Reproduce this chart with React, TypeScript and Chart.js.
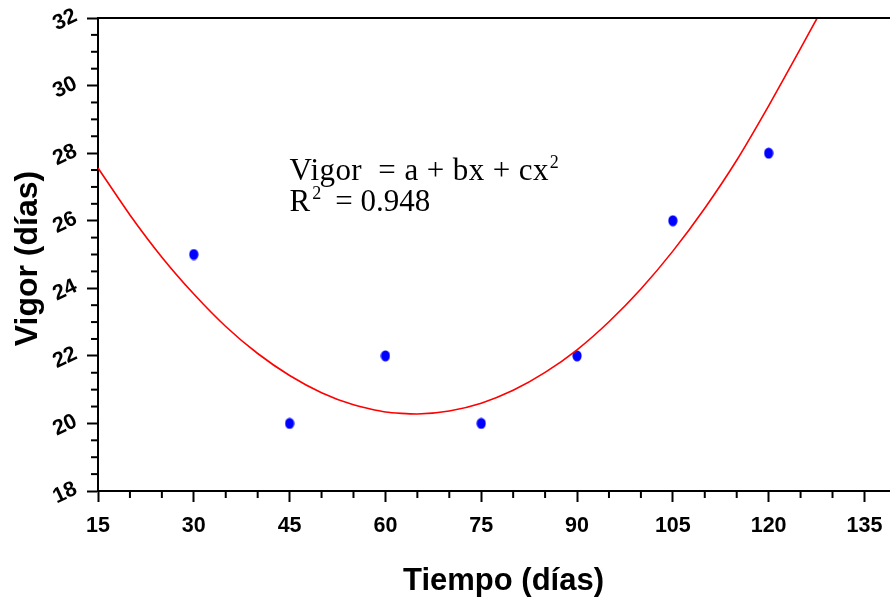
import React, { useEffect, useRef } from "react";
import { Chart, registerables } from "chart.js";

Chart.register(...registerables);

// Observed data
const tiempo = [30, 45, 60, 75, 90, 105, 120];
const vigor = [25, 20, 22, 20, 22, 26, 28];

// Fitted quadratic curve
const fitX = [15, 20, 25, 30, 35, 40, 45, 50, 55, 60, 65, 70, 75, 80, 85, 90, 95, 100, 105, 110, 115, 120, 125, 127.6];
const fitY = [27.56, 26.17, 24.92, 23.83, 22.87, 22.07, 21.42, 20.91, 20.55, 20.34, 20.28, 20.37, 20.6, 20.98, 21.51, 22.18, 23.01, 23.98, 25.1, 26.37, 27.79, 29.4, 31.1, 32.0];

const xMajor = [15, 30, 45, 60, 75, 90, 105, 120, 135];
const yMajor = [18, 20, 22, 24, 26, 28, 30, 32];

const xTitle = "Tiempo (días)";
const yTitle = "Vigor (días)";
const eqLine1 = "Vigor  = a + bx + cx";
const eqR2 = "0.948";

const SANS = "'Liberation Sans', Arial, sans-serif";
const SERIF = "'Liberation Serif', 'Times New Roman', serif";

function makeDot(): HTMLCanvasElement {
  const c = document.createElement("canvas");
  c.width = 10;
  c.height = 12;
  const g = c.getContext("2d")!;
  g.fillStyle = "#0000ff";
  g.beginPath();
  g.ellipse(5, 6, 4.6, 5.6, 0, 0, Math.PI * 2);
  g.fill();
  return c;
}

const framePlugin = {
  id: "frame",
  afterDraw(chart: any) {
    const ctx = chart.ctx;
    const a = chart.chartArea;
    const xs = chart.scales.x;
    const ys = chart.scales.y;
    ctx.save();
    ctx.strokeStyle = "#000";
    ctx.lineWidth = 2;
    // top line
    ctx.beginPath();
    ctx.moveTo(a.left, a.top);
    ctx.lineTo(a.right, a.top);
    ctx.stroke();
    // minor ticks
    xs.ticks.forEach((t: any) => {
      if (!xMajor.includes(t.value)) {
        const px = xs.getPixelForValue(t.value);
        ctx.beginPath();
        ctx.moveTo(px, a.bottom);
        ctx.lineTo(px, a.bottom + 7);
        ctx.stroke();
      }
    });
    ys.ticks.forEach((t: any) => {
      if (!yMajor.includes(t.value)) {
        const py = ys.getPixelForValue(t.value);
        ctx.beginPath();
        ctx.moveTo(a.left, py);
        ctx.lineTo(a.left - 7, py);
        ctx.stroke();
      }
    });
    // rotated y tick labels
    ctx.fillStyle = "#000";
    ctx.font = `bold 21.5px ${SANS}`;
    ctx.textAlign = "center";
    ctx.textBaseline = "middle";
    yMajor.forEach((v) => {
      const py = ys.getPixelForValue(v);
      ctx.save();
      ctx.translate(a.left - 33, py + 2);
      ctx.rotate((-25 * Math.PI) / 180);
      ctx.fillText(String(v), 0, 0);
      ctx.restore();
    });
    // axis titles
    ctx.font = `bold 31px ${SANS}`;
    ctx.fillText(xTitle, a.left + (a.right - a.left) * 0.512, 581);
    ctx.save();
    ctx.font = `bold 32px ${SANS}`;
    ctx.translate(28, (a.top + a.bottom) / 2 + 4);
    ctx.rotate(-Math.PI / 2);
    ctx.fillText(yTitle, 0, 0);
    ctx.restore();
    // equation annotation
    const x0 = xs.getPixelForValue(45);
    const y1 = ys.getPixelForValue(27.2);
    const y2 = ys.getPixelForValue(26.28);
    ctx.textBaseline = "alphabetic";
    ctx.textAlign = "left";
    ctx.font = `31px ${SERIF}`;
    (ctx as any).letterSpacing = "0.4px";
    ctx.fillText(eqLine1, x0, y1);
    const w1 = ctx.measureText(eqLine1).width;
    (ctx as any).letterSpacing = "0px";
    ctx.font = `18px ${SERIF}`;
    ctx.fillText("2", x0 + w1 + 1, y1 - 12);
    ctx.font = `31px ${SERIF}`;
    ctx.fillText("R", x0, y2);
    const wr = ctx.measureText("R").width;
    ctx.font = `18px ${SERIF}`;
    ctx.fillText("2", x0 + wr + 2, y2 - 12);
    ctx.font = `31px ${SERIF}`;
    ctx.fillText("= " + eqR2, x0 + wr + 25, y2);
    ctx.restore();
  },
};

export default function App() {
  const ref = useRef<HTMLCanvasElement>(null);
  useEffect(() => {
    const dot = makeDot();
    const chart = new Chart(ref.current!, {
      type: "scatter",
      data: {
        datasets: [
          {
            type: "line",
            data: fitX.map((x, i) => ({ x, y: fitY[i] })),
            borderColor: "#ff0000",
            borderWidth: 1.6,
            pointRadius: 0,
            tension: 0.2,
            fill: false,
          } as any,
          {
            data: tiempo.map((x, i) => ({ x, y: vigor[i] })),
            pointStyle: dot,
            backgroundColor: "#0000ff",
            borderColor: "#0000ff",
          },
        ],
      },
      options: {
        animation: false,
        responsive: false,
        events: [],
        layout: { autoPadding: false, padding: { top: 18, right: 0, left: 0, bottom: 0 } },
        plugins: { legend: { display: false }, tooltip: { enabled: false } },
        scales: {
          x: {
            type: "linear",
            min: 15,
            max: 139,
            afterFit: (s: any) => {
              s.height = 109;
              s.paddingLeft = 0;
              s.paddingRight = 0;
            },
            ticks: {
              stepSize: 5,
              includeBounds: false,
              autoSkip: false,
              maxRotation: 0,
              minRotation: 0,
              padding: 11,
              color: "#000",
              font: { family: SANS, size: 21.5, weight: "bold" },
              callback: (v: any) => (xMajor.includes(v) ? String(v) : ""),
            },
            grid: {
              drawOnChartArea: false,
              drawTicks: true,
              tickLength: 11,
              tickWidth: 2,
              tickColor: (c: any) => (xMajor.includes(c.tick?.value) ? "#000" : "rgba(0,0,0,0)"),
            },
            border: { display: true, color: "#000", width: 2 },
            title: { display: false },
          },
          y: {
            type: "linear",
            min: 18,
            max: 32,
            afterFit: (s: any) => {
              s.width = 98;
              s.paddingTop = 0;
              s.paddingBottom = 0;
            },
            ticks: {
              stepSize: 0.5,
              autoSkip: false,
              padding: 6,
              color: "#000",
              font: { family: SANS, size: 12, weight: "bold" },
              callback: () => "",
            },
            grid: {
              drawOnChartArea: false,
              drawTicks: true,
              tickLength: 11,
              tickWidth: 2,
              tickColor: (c: any) => (yMajor.includes(c.tick?.value) ? "#000" : "rgba(0,0,0,0)"),
            },
            border: { display: true, color: "#000", width: 2 },
            title: { display: false },
          },
        },
      },
      plugins: [framePlugin],
    } as any);
    return () => chart.destroy();
  }, []);
  return (
    <div style={{ position: "fixed", left: 0, top: 0, width: 890, height: 600, background: "#fff" }}>
      <canvas ref={ref} width={890} height={600} style={{ display: "block" }} />
    </div>
  );
}
